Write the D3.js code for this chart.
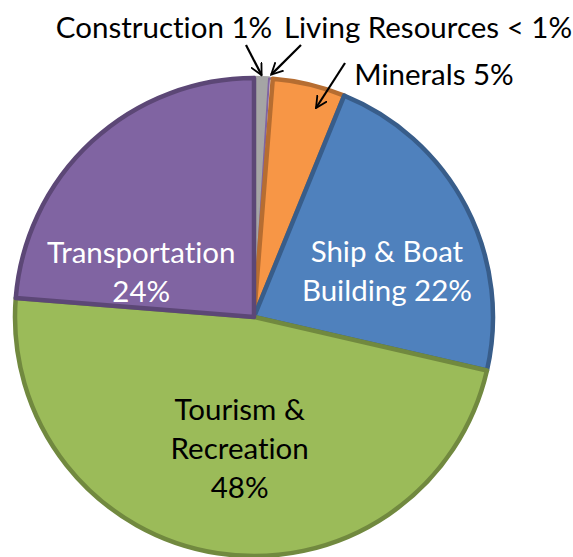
<!DOCTYPE html>
<html>
<head>
<meta charset="utf-8">
<script src="https://cdn.jsdelivr.net/npm/d3@7"></script>
<style>
  body { margin: 0; background: #fff; }
  text { font-family: Lato, "Open Sans", sans-serif; font-variant-ligatures: none; }
</style>
</head>
<body>
<div id="chart-container"></div>
<script>
var categories = ['Construction', 'Living Resources', 'Minerals', 'Ship & Boat Building', 'Tourism & Recreation', 'Transportation']
var values = [1.0, 0.25, 4.9, 22.4, 47.6, 23.7]
var pctLabels = ['1%', '< 1%', '5%', '22%', '48%', '24%']
var fills = ['#a5a5a5', '#f4eef8', '#f79646', '#4f81bd', '#9bbb59', '#8064a2']
var strokes = ['#a5a5a5', '#8064a2', '#b66d31', '#385d8a', '#71893f', '#5c4776']

var width = 573, height = 557
var cx = 254, cy = 317, radius = 241
var fontSize = 29.5

var data = categories.map((c, i) => ({name: c, value: values[i], pct: pctLabels[i], fill: fills[i], stroke: strokes[i]}))

var svg = d3.select('#chart-container')
  .append('svg')
  .attr('width', width)
  .attr('height', height)

var g = svg.append('g')
  .attr('transform', 'translate(' + cx + ', ' + cy + ')')

var pie = d3.pie()
  .sort(null)
  .value(d => d.value)

var arc = d3.arc()
  .innerRadius(0)
  .outerRadius(radius - 2)

var arcs = pie(data)

g.selectAll('path.slice')
  .data(arcs)
  .enter()
  .append('path')
  .attr('class', 'slice')
  .attr('d', arc)
  .attr('fill', d => d.data.fill)
  .attr('stroke', d => d.data.stroke)
  .attr('stroke-width', d => d.data.name == 'Living Resources' ? 2 : 4.5)
  .attr('stroke-linejoin', 'round')

/* inside labels */
var labelArc = d3.arc().innerRadius(radius * 0.5).outerRadius(radius * 0.5)
var inside = [
  {i: 3, lines: ['Ship & Boat', 'Building 22%'], color: '#fff', dx: 26, dy: 10},
  {i: 4, lines: ['Tourism &', 'Recreation', '48%'], color: '#000', dx: 4, dy: 12},
  {i: 5, lines: ['Transportation', '24%'], color: '#fff', dx: -31, dy: 44}
]
inside.forEach(function(l) {
  var c = labelArc.centroid(arcs[l.i])
  var t = g.append('text')
    .attr('text-anchor', 'middle')
    .attr('fill', l.color)
    .attr('font-size', fontSize)
    .attr('x', c[0] + l.dx)
    .attr('y', c[1] + l.dy - (l.lines.length - 1) * 19 + 10)
  l.lines.forEach(function(line, k) {
    t.append('tspan')
      .attr('x', c[0] + l.dx)
      .attr('dy', k == 0 ? 0 : 39)
      .text(line)
  })
})

/* outside labels with arrows */
var outside = [
  {i: 0, text: 'Construction 1%', x: 164, y: 38, ax: 246, ay: 45, t: 0.5, r: radius + 1},
  {i: 1, text: 'Living Resources < 1%', x: 428, y: 38, ax: 301, ay: 45, t: 0.5, r: radius + 2},
  {i: 2, text: 'Minerals 5%', x: 434, y: 85, ax: 345, ay: 63, t: 0.68, r: radius - 23}
]
var marker = svg.append('defs').append('marker')
  .attr('id', 'head')
  .attr('viewBox', '0 0 10 10')
  .attr('refX', 9).attr('refY', 5)
  .attr('markerWidth', 13).attr('markerHeight', 13)
  .attr('markerUnits', 'userSpaceOnUse')
  .attr('orient', 'auto')
marker.append('path')
  .attr('d', 'M0,0.5 L9,5 L0,9.5')
  .attr('fill', 'none')
  .attr('stroke', '#000')
  .attr('stroke-width', 1.4)

outside.forEach(function(l) {
  svg.append('text')
    .attr('x', l.x)
    .attr('y', l.y)
    .attr('text-anchor', 'middle')
    .attr('font-size', fontSize)
    .attr('fill', '#000')
    .text(l.text)
  var a = arcs[l.i]
  var ang = a.startAngle + l.t * (a.endAngle - a.startAngle)
  var tx = cx + l.r * Math.sin(ang)
  var ty = cy - l.r * Math.cos(ang)
  svg.append('line')
    .attr('x1', l.ax).attr('y1', l.ay)
    .attr('x2', tx).attr('y2', ty)
    .attr('stroke', '#000')
    .attr('stroke-width', 2.2)
    .attr('marker-end', 'url(#head)')
})
</script>
</body>
</html>
